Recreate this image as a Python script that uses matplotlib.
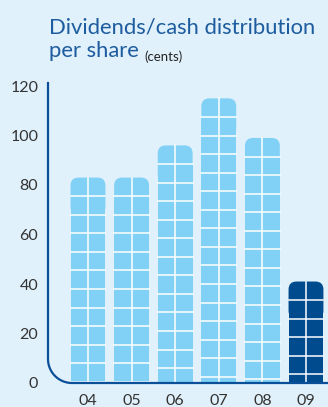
import matplotlib
matplotlib.use("Agg")
import matplotlib.pyplot as plt
from matplotlib.patches import FancyBboxPatch
import numpy as np

years = ["04", "05", "06", "07", "08", "09"]
values = [83, 83, 96, 115, 99, 41]
bar_colors = ["#80d1f5", "#80d1f5", "#80d1f5", "#80d1f5", "#80d1f5", "#004b8e"]
yticks = [0, 20, 40, 60, 80, 100, 120]

bg = "#e0f1fb"
navy = "#0b4f98"
cell = 7.5  # height of one window pane, in cents

plt.rcParams['font.family'] = ['Lato', 'DejaVu Sans']

W, H = 328, 407
fig = plt.figure(figsize=(W / 100, H / 100), dpi=100, facecolor=bg)

# axes placed in pixels: x from 48 to 328, y=0 at 383, y=120 at 86
ax = fig.add_axes([48 / W, (H - 383) / H, 280 / W, 297 / H])
ax.set_facecolor(bg)
xmin, xmax = -0.917, 5.505
ax.set_xlim(xmin, xmax)
ax.set_ylim(0, 120)

px_x = 280 / (xmax - xmin)
px_y = 297 / 120

x = np.arange(len(years))
width = 0.8
r = 8 / px_x  # corner radius in x units

for xi, v, c in zip(x, values, bar_colors):
    # body of the bar
    ax.bar(xi, v - cell, width=width, color=c, linewidth=0, zorder=2)
    # rounded cap
    cap = FancyBboxPatch((xi - width / 2, v - 2 * cell), width, 2 * cell,
                         boxstyle=f"round,pad=0,rounding_size={r}",
                         mutation_aspect=px_x / px_y,
                         facecolor=c, edgecolor="none", zorder=2)
    ax.add_patch(cap)
    # white window lines
    ax.plot([xi, xi], [0, v], color="white", lw=1.1, zorder=3)
    k = 1
    while v - k * cell > 0:
        yy = v - k * cell
        ax.plot([xi - width / 2, xi + width / 2], [yy, yy], color="white",
                lw=1.1, zorder=3)
        k += 1

for s in ax.spines.values():
    s.set_visible(False)
ax.set_xticks(x)
ax.set_xticklabels(years)
ax.set_yticks(yticks)
ax.tick_params(length=0, labelsize=11.5, labelcolor="#333333")
ax.tick_params(axis="x", pad=8)
ax.tick_params(axis="y", pad=7)

# axis line with rounded corner, drawn in pixel space
rad = 24
t = np.linspace(np.pi, 1.5 * np.pi, 30)
ax_x = [48, 48] + list(48 + rad + rad * np.cos(t)) + [W]
ax_y = [H - 83, 24 + rad] + list(24 + rad + rad * np.sin(t)) + [24]
fig.add_artist(plt.Line2D(np.array(ax_x) / W, np.array(ax_y) / H,
                          transform=fig.transFigure, color=navy, lw=1.6))

# title
fig.text(49 / W, (H - 33) / H, "Dividends/cash distribution", color="#1d5c9e",
         fontsize=15.8, ha="left", va="baseline")
t2 = fig.text(49 / W, (H - 57) / H, "per share", color="#1d5c9e",
              fontsize=15.8, ha="left", va="baseline")
plt.annotate("(cents)", xy=(1, 0), xycoords=t2, xytext=(4, 0),
             textcoords="offset points", color="#222222", fontsize=9.5,
             ha="left", va="baseline")

fig.savefig("out.png", dpi=100, facecolor=bg)
